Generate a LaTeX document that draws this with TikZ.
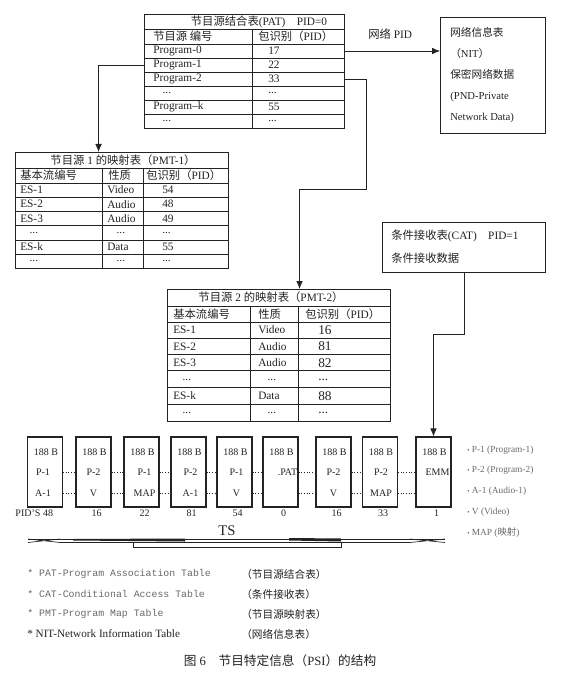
\documentclass[tikz,border=0pt]{standalone}
\usepackage{fontspec}
\setmainfont{Liberation Serif}
\setmonofont{Liberation Mono}
\newfontfamily\cjk{Noto Sans CJK SC}
\usepackage{tikz}
\usetikzlibrary{arrows.meta,calc}
\newcommand{\zh}[1]{{\cjk #1}}
\newcommand{\dotsrow}{...}
\newcommand{\dotsin}{\hspace{7pt}...}
\newcommand{\tabfont}{\fontsize{8.5}{10}\selectfont}
\definecolor{inkgrey}{RGB}{35,35,35}
\definecolor{keygrey}{RGB}{105,105,105}
\tikzset{
  >={Latex[length=6pt,width=5pt]},
  flow/.style={->, line width=0.6pt, draw=inkgrey},
  tabframe/.style={draw=inkgrey, line width=0.8pt, inner sep=0pt, anchor=north west},
  rule/.style={draw=inkgrey, line width=0.45pt},
  cell/.style={anchor=west, inner sep=0pt, text=inkgrey, font=\tabfont},
  headline/.style={inner sep=0pt, text=inkgrey, font=\tabfont},
  packet/.style={draw=inkgrey, line width=0.8pt, inner sep=0pt,
    minimum width=26.25pt, minimum height=52.5pt},
  pkttext/.style={inner sep=0pt, text=inkgrey, font=\fontsize{7.5}{9}\selectfont},
  dotline/.style={draw=inkgrey, line width=0.6pt, dash pattern=on 0.8pt off 1.2pt},
  keytext/.style={anchor=west, inner sep=0pt, text=keygrey, font=\fontsize{7}{8}\selectfont},
  legtext/.style={anchor=west, inner sep=0pt, text=inkgrey}
}
\begin{document}
\begin{tikzpicture}[x=0.75pt,y=-0.75pt]
\useasboundingbox (0,0) rectangle (560,681);

% program association table
\node[tabframe, minimum width=150pt, minimum height=85.5pt] (pat) at (144,14) {};
\foreach \y in {29,44,58,72,86,100,114}
  \draw[rule] (144,\y) -- (344,\y);
\draw[rule] (252,29) -- (252,128);
\node[headline] (pat-title) at (259,21.5) {\zh{节目源结合表}(PAT)\quad PID=0};
\node[cell] (pat-h1) at (153,36.5) {\zh{节目源 编号}};
\node[cell] (pat-h2) at (258,36.5) {\zh{包识别（}PID\zh{）}};
\foreach \prog/\pv [count=\i from 0] in
  {Program-0/17,Program-1/22,Program-2/33,\dotsin/\dotsrow,Program--k/55,\dotsin/\dotsrow}{
  \node[cell] (pat-p\i) at (153,{51+14*\i}) {\prog};
  \node[cell] (pat-v\i) at (268,{51+14*\i}) {\pv};
}

% network information table
\node[tabframe, minimum width=78.75pt, minimum height=87pt] (nit) at (440,17) {};
\node[cell, align=left, font=\fontsize{8}{15.6}\selectfont] (nit-text) at (450,75)
  {\zh{网络信息表}\\\zh{（}NIT\zh{）}\\\zh{保密网络数据}\\(PND-Private\\Network Data)};
\node[cell] (nit-label) at (368,34) {\zh{网络} PID};
\draw[flow] (pat.east |- pat-p0) -- (nit.west |- pat-p0);

% program map table 1
\node[tabframe, minimum width=159.75pt, minimum height=87pt] (pmt1) at (15,152) {};
\foreach \y in {168,183,197,211,225,240,254}
  \draw[rule] (15,\y) -- (228,\y);
\draw[rule] (102,168) -- (102,268);
\draw[rule] (143,168) -- (143,268);
\node[headline] (pmt1-title) at (123,160) {\zh{节目源} 1 \zh{的映射表（}PMT-1\zh{）}};
\node[cell] (pmt1-h1) at (20,175.5) {\zh{基本流编号}};
\node[cell] (pmt1-h2) at (108,175.5) {\zh{性质}};
\node[cell] (pmt1-h3) at (146,175.5) {\zh{包识别（}PID\zh{）}};
\foreach \es/\kind/\pv [count=\i from 0] in
  {ES-1/Video/54,ES-2/Audio/48,ES-3/Audio/49,\dotsin/\dotsin/\dotsrow,ES-k/Data/55,\dotsin/\dotsin/\dotsrow}{
  \node[cell] (pmt1-a\i) at (20,{190+14.2*\i}) {\es};
  \node[cell] (pmt1-b\i) at (107,{190+14.2*\i}) {\kind};
  \node[cell] (pmt1-c\i) at (162,{190+14.2*\i}) {\pv};
}
\draw[flow] (pat.west |- pat-p1) -| ($(pmt1.north)+(-23.5,0)$);

% conditional access table
\node[tabframe, minimum width=122.25pt, minimum height=37.5pt] (cat) at (382,222) {};
\node[cell, align=left, font=\fontsize{8.5}{17}\selectfont] (cat-text) at (391,246.5)
  {\zh{条件接收表}(CAT)\quad PID=1\\\zh{条件接收数据}};

% program map table 2
\node[tabframe, minimum width=167.25pt, minimum height=99pt] (pmt2) at (167,289) {};
\foreach \y in {306,322,338,354,370,387,404}
  \draw[rule] (167,\y) -- (390,\y);
\draw[rule] (250,306) -- (250,421);
\draw[rule] (298,306) -- (298,421);
\node[headline] (pmt2-title) at (271,297.5) {\zh{节目源} 2 \zh{的映射表（}PMT-2\zh{）}};
\node[cell] (pmt2-h1) at (173,314) {\zh{基本流编号}};
\node[cell] (pmt2-h2) at (258,314) {\zh{性质}};
\node[cell] (pmt2-h3) at (305,314) {\zh{包识别（}PID\zh{）}};
\foreach \es/\kind/\pv [count=\i from 0] in
  {ES-1/Video/16,ES-2/Audio/81,ES-3/Audio/82,\dotsin/\dotsin/\dotsrow,ES-k/Data/88,\dotsin/\dotsin/\dotsrow}{
  \node[cell] (pmt2-a\i) at (173,{330+16.5*\i}) {\es};
  \node[cell] (pmt2-b\i) at (258,{330+16.5*\i}) {\kind};
  \node[cell, font=\fontsize{10}{11}\selectfont] (pmt2-c\i) at (318,{330+16.5*\i}) {\pv};
}
\coordinate (turn2) at (366,189);
\draw[flow] (pat.east |- pat-p2) -| (turn2) -| ($(pmt2.north)+(20.5,0)$);

% transport stream packets
\foreach \x/\txa/\txb/\pv/\dx [count=\i] in
  {45/P-1/A-1/48/-2,93.5/P-2/V/16/0,141.5/P-1/MAP/22/3,188.5/P-2/A-1/81/2,
   234.5/P-1/V/54/2,280.5/.PAT//0/7,333.5/P-2/V/16/0,380/P-2/MAP/33/1,433.5/EMM//1/4}{
  \node[packet] (pk\i) at (\x,472) {};
  \node[pkttext] (pk\i-b) at ($(pk\i.center)+(1,-20)$) {188 B};
  \node[pkttext] (pk\i-m) at ($(pk\i.center)+(\dx,0)$) {\txa};
  \node[pkttext] (pk\i-l) at ($(pk\i.center)+(\dx,21)$) {\txb};
  \node[pkttext] (pid\i) at ($(pk\i.south)+(3,6)$) {\pv};
}
\node[pkttext, anchor=east] (pid-lbl) at ($(pid1.west)+(-2,0)$) {PID'S};
\foreach \i [count=\j from 2] in {1,...,8}{
  \draw[dotline] (pk\i.east) -- (pk\j.west);
  \draw[dotline] ($(pk\i.east)+(0,21)$) -- ($(pk\j.west)+(0,21)$);
}
\draw[flow] (cat.south) -- ++(0,61) -| (pk9.north);

% key on the right
\foreach \key [count=\i from 0] in
  {P-1 (Program-1),P-2 (Program-2),A-1 (Audio-1),V (Video),{MAP (\zh{映射})}}
  \node[keytext] (key\i) at (467,{450+20.7*\i}) {{\tiny\textbullet}\ \key};

% transport stream
\node[inner sep=0pt, text=inkgrey, font=\fontsize{11}{12}\selectfont] (ts) at (227,531) {TS};
\draw[inkgrey, line width=0.5pt] (28,539) -- (445,539);
\draw[inkgrey, line width=0.5pt] (60,542.5) -- (133,542.5);
\draw[inkgrey, line width=0.5pt] (341,542.5) -- (410,542.5);
\draw[inkgrey, line width=0.6pt] (133,542.5) rectangle (341,547);
\fill[inkgrey] (73,539) -- (185,538.5) -- (185,541.5) -- (73,540.5) -- cycle;
\fill[inkgrey] (289,538) -- (341,538.5) -- (341,541.5) -- (289,540.5) -- cycle;
\draw[inkgrey, line width=0.5pt] (28,542.5) -- (60,539) (28,539) -- (60,542.5);
\draw[inkgrey, line width=0.5pt] (410,539) -- (445,542.5) (410,542.5) -- (445,539);

% abbreviations
\foreach \abbr/\zhname [count=\i from 0] in
  {PAT-Program Association Table/节目源结合表,CAT-Conditional Access Table/条件接收表,
   PMT-Program Map Table/节目源映射表}{
  \node[legtext, text=keygrey, font=\ttfamily\fontsize{7.4}{9}\selectfont] (abbr\i) at (27,{574+20*\i}) {* \abbr};
  \node[legtext, font=\fontsize{8}{9}\selectfont] (zh\i) at (241,{574+20*\i}) {\zh{（\zhname）}};
}
\node[legtext, font=\fontsize{8.4}{9}\selectfont] (abbr3) at (27,634) {* NIT-Network Information Table};
\node[legtext, font=\fontsize{8}{9}\selectfont] (zh3) at (241,634) {\zh{（网络信息表）}};

% caption
\node[inner sep=0pt, text=inkgrey, font=\fontsize{9.5}{11}\selectfont] (caption) at (280,661)
  {\zh{图} 6\quad\zh{节目特定信息（}PSI\zh{）的结构}};
\end{tikzpicture}
\end{document}
